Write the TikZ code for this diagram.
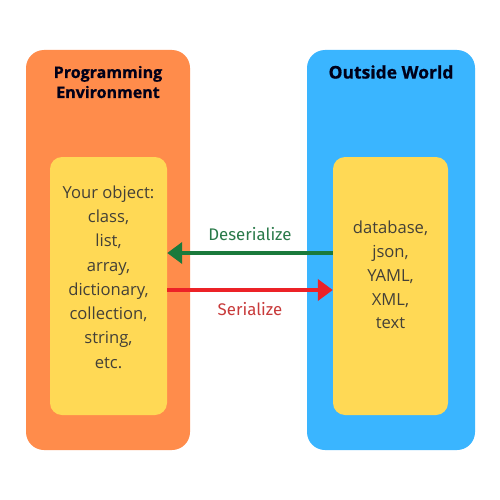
\documentclass[tikz,border=0pt]{standalone}
\usepackage{fontspec}
\setmainfont{Open Sans}[BoldFeatures={FakeBold=0.7}]
\newfontfamily\arrowfont{Fira Sans}
\usetikzlibrary{arrows.meta}
\definecolor{orangebg}{HTML}{FF8C4B}
\definecolor{bluebg}{HTML}{3AB5FF}
\definecolor{yellowbg}{HTML}{FFD955}
\definecolor{arrgreen}{HTML}{1A7A3C}
\definecolor{arrred}{HTML}{EC2227}
\definecolor{lblgreen}{HTML}{2A7A4A}
\definecolor{lblred}{HTML}{C83A3A}
\begin{document}
\begin{tikzpicture}[x=1pt,y=-1pt,
  outerbox/.style={rounded corners=18pt, minimum width=#1, minimum height=400pt, inner sep=0pt, draw=none},
  innerbox/.style={fill=yellowbg, rounded corners=12pt, minimum height=258pt, inner sep=0pt, draw=none},
  titletxt/.style={font=\fontsize{#1}{20}\selectfont\bfseries, align=center, text=black!90!blue},
  bodytxt/.style={font=\fontsize{16.6}{#1}\selectfont, align=center, text=black!85!yellow},
  arrlbl/.style={font=\arrowfont\fontsize{16.8}{18}\selectfont},
  conn/.style={line width=4pt, -{Triangle[length=15pt,width=21pt]}}
]
\useasboundingbox (0,0) rectangle (500,500);
\fill[white] (0,0) rectangle (500,500);
\node[outerbox=164pt, fill=orangebg] (lout) at (108,250) {};
\node[outerbox=168pt, fill=bluebg] (rout) at (391,250) {};
\node[innerbox, minimum width=117pt] (lin) at (108.5,286) {};
\node[innerbox, minimum width=115pt] (rin) at (390.5,286) {};
\node[titletxt=16] (ltitle) at (108,82) {Programming\\Environment};
\node[titletxt=17.5] (rtitle) at (391,72) {Outside World};
\node[bodytxt=24.3] (ltext) at (108.5,277) {Your object:\\class,\\list,\\array,\\dictionary,\\collection,\\string,\\etc.};
\node[bodytxt=23.8] (rtext) at (390.5,275) {database,\\json,\\YAML,\\XML,\\text};
\coordinate (gstart) at (rin.west |- 0,253);
\coordinate (gend) at (lin.east |- 0,253);
\coordinate (rstart) at (lin.east |- 0,290);
\coordinate (rend) at (rin.west |- 0,290);
\draw[conn, arrgreen] (gstart) -- (gend);
\draw[conn, arrred] (rstart) -- (rend);
\node[arrlbl, text=lblgreen] (deser) at (250,234) {Deserialize};
\node[arrlbl, text=lblred] (ser) at (250,309) {Serialize};
\end{tikzpicture}
\end{document}
